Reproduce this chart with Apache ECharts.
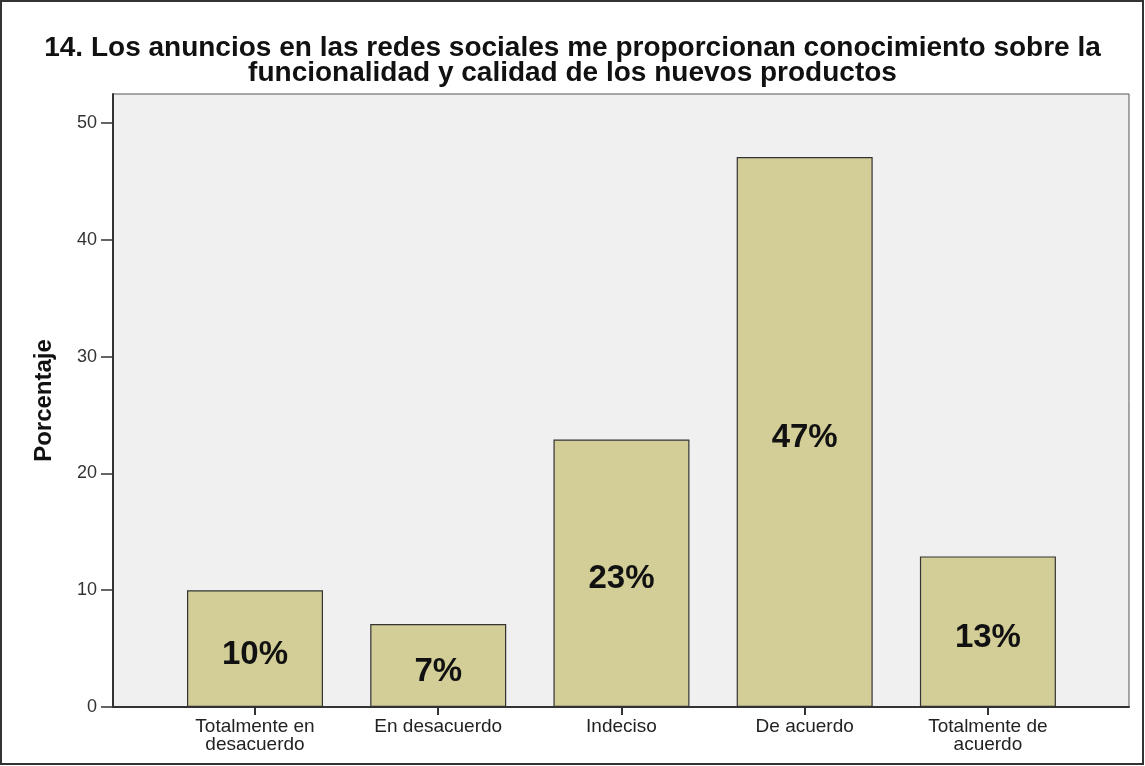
<!DOCTYPE html>
<html>
<head>
<meta charset="utf-8">
<script src="https://cdn.jsdelivr.net/npm/echarts@6/dist/echarts.min.js"></script>
<style>
  html, body { margin: 0; padding: 0; background: #fff; }
  #chart { width: 1145px; height: 766px; }
</style>
</head>
<body>
<div id="chart"></div>
<script>
// Survey item 14: share of respondents per answer (percent)
const categories = ['Totalmente en\ndesacuerdo', 'En desacuerdo', 'Indeciso', 'De acuerdo', 'Totalmente de\nacuerdo'];
const percentages = [10.0, 7.1, 22.9, 47.1, 12.9];
const yTicks = [0, 10, 20, 30, 40, 50];
const titleLines = [
  '14. Los anuncios en las redes sociales me proporcionan conocimiento sobre la',
  'funcionalidad y calidad de los nuevos productos'
];
const yName = 'Porcentaje';

const positions = categories.map((_, i) => i);
const barData = percentages.map((v, i) => [positions[i], v]);

const FONT = 'Liberation Sans, Arial, sans-serif';
const chart = echarts.init(document.getElementById('chart'), null, { renderer: 'canvas' });

chart.setOption({
  backgroundColor: '#ffffff',
  animation: false,
  title: {
    text: titleLines.join('\n'),
    left: 'center',
    top: 31,
    textStyle: {
      fontFamily: FONT,
      fontWeight: 'bold',
      fontSize: 28,
      lineHeight: 25,
      color: '#111'
    }
  },
  grid: {
    left: 113,
    right: 16,
    top: 94,
    bottom: 59,
    show: true,
    backgroundColor: '#F0F0F0',
    borderColor: '#555',
    borderWidth: 1
  },
  xAxis: {
    type: 'value',
    min: -0.775,
    max: 4.77,
    splitLine: { show: false },
    axisLine: { show: true, onZero: false, lineStyle: { color: '#333', width: 2 } },
    axisTick: {
      show: true,
      length: 8,
      customValues: positions,
      lineStyle: { color: '#333', width: 2 }
    },
    axisLabel: {
      customValues: positions,
      formatter: v => categories[Math.round(v)],
      fontFamily: FONT,
      fontSize: 19,
      lineHeight: 18,
      color: '#222',
      margin: 11
    }
  },
  yAxis: {
    type: 'value',
    min: 0,
    max: 52.5,
    name: yName,
    nameLocation: 'middle',
    nameGap: 57,
    nameTextStyle: {
      fontFamily: FONT,
      fontWeight: 'bold',
      fontSize: 24,
      color: '#111'
    },
    splitLine: { show: false },
    axisLine: { show: true, onZero: false, lineStyle: { color: '#333', width: 2 } },
    axisTick: {
      show: true,
      length: 12,
      customValues: yTicks,
      lineStyle: { color: '#333', width: 1.5 }
    },
    axisLabel: {
      customValues: yTicks,
      fontFamily: FONT,
      fontSize: 18,
      color: '#333',
      margin: 16
    }
  },
  series: [{
    type: 'bar',
    data: barData,
    barWidth: 136,
    itemStyle: {
      color: '#D3CE97',
      borderColor: '#333',
      borderWidth: 1.2
    },
    label: {
      show: true,
      position: 'inside',
      offset: [0, 6],
      formatter: p => Math.round(p.value[1]) + '%',
      fontFamily: FONT,
      fontWeight: 'bold',
      fontSize: 33,
      color: '#111'
    }
  }],
  graphic: [{
    type: 'rect',
    shape: { x: 1, y: 1, width: 1142, height: 763 },
    style: { fill: 'none', stroke: '#333', lineWidth: 2 },
    silent: true
  }]
});
</script>
</body>
</html>
